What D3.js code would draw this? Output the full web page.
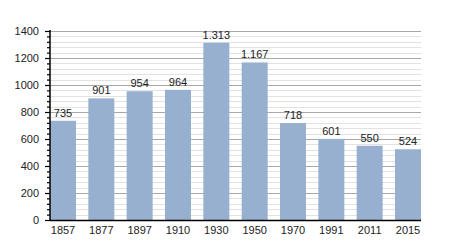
<!DOCTYPE html>
<html>
<head>
<meta charset="utf-8">
<script src="https://cdn.jsdelivr.net/npm/d3@7"></script>
<style>
  body { margin: 0; background: #fff; }
  text { font-family: "Liberation Sans", Arial, sans-serif; fill: #222; }
</style>
</head>
<body>
<script>
var annees = ["1857", "1877", "1897", "1910", "1930", "1950", "1970", "1991", "2011", "2015"];
var habitants = [735, 901, 954, 964, 1313, 1167, 718, 601, 550, 524];
var etiquettes = ["735", "901", "954", "964", "1.313", "1.167", "718", "601", "550", "524"];
var ticksMajeurs = [0, 200, 400, 600, 800, 1000, 1200, 1400];

var largeur = 450, hauteur = 250;
var gauche = 50, droite = 421, haut = 31, bas = 220;

var svg = d3.select("body").append("svg")
  .attr("width", largeur)
  .attr("height", hauteur);

var echelleX = d3.scaleBand()
  .domain(annees)
  .range([gauche, droite])
  .paddingInner(0.322)
  .paddingOuter(0);

var echelleY = d3.scaleLinear()
  .domain([0, 1400])
  .range([bas, haut]);

// lignes mineures tous les 40
var mineurs = d3.range(0, 1401, 40).filter(v => v % 200 !== 0);

svg.append("g").selectAll("line").data(mineurs).enter().append("line")
  .attr("x1", gauche).attr("x2", droite)
  .attr("y1", d => Math.round(echelleY(d)) + 0.5)
  .attr("y2", d => Math.round(echelleY(d)) + 0.5)
  .attr("stroke", "#e2e2e2");

svg.append("g").selectAll("line").data(ticksMajeurs.slice(1)).enter().append("line")
  .attr("x1", gauche).attr("x2", droite)
  .attr("y1", d => Math.round(echelleY(d)) + 0.5)
  .attr("y2", d => Math.round(echelleY(d)) + 0.5)
  .attr("stroke", "#a8a8a8");

// barres
svg.append("g").selectAll("rect").data(habitants).enter().append("rect")
  .attr("x", (d, i) => echelleX(annees[i]))
  .attr("y", d => echelleY(d))
  .attr("width", echelleX.bandwidth())
  .attr("height", d => bas - echelleY(d))
  .attr("fill", "#97b0cf");

// valeurs
svg.append("g").selectAll("text").data(habitants).enter().append("text")
  .attr("x", (d, i) => echelleX(annees[i]) + echelleX.bandwidth() / 2)
  .attr("y", d => echelleY(d) - 4)
  .attr("text-anchor", "middle")
  .style("font-size", "11px")
  .text((d, i) => etiquettes[i]);

// axe Y
var axeY = d3.axisLeft(echelleY).tickValues(ticksMajeurs).tickSize(5).tickPadding(6).tickFormat(d3.format("d"));
var gY = svg.append("g").attr("transform", "translate(" + gauche + ",0)").call(axeY);
gY.selectAll("text").style("font-size", "11px");
gY.select(".domain").remove();

var axeYmin = d3.axisLeft(echelleY).tickValues(mineurs).tickSize(3).tickFormat("");
var gYm = svg.append("g").attr("transform", "translate(" + gauche + ",0)").call(axeYmin);
gYm.select(".domain").remove();
svg.selectAll("g.tick line").attr("stroke", "#000").attr("stroke-width", 1.2);

svg.append("line")
  .attr("x1", gauche).attr("x2", gauche)
  .attr("y1", haut - 1).attr("y2", bas + 1)
  .attr("stroke", "#000").attr("stroke-width", 1.5);

// axe X
var axeX = d3.axisBottom(echelleX).tickSize(0).tickPadding(6);
var gX = svg.append("g").attr("transform", "translate(0," + bas + ")").call(axeX);
gX.selectAll("text").style("font-size", "11px");
gX.select(".domain").remove();

svg.append("line")
  .attr("x1", gauche).attr("x2", droite)
  .attr("y1", bas + 0.5).attr("y2", bas + 0.5)
  .attr("stroke", "#000").attr("stroke-width", 1.5);
</script>
</body>
</html>
